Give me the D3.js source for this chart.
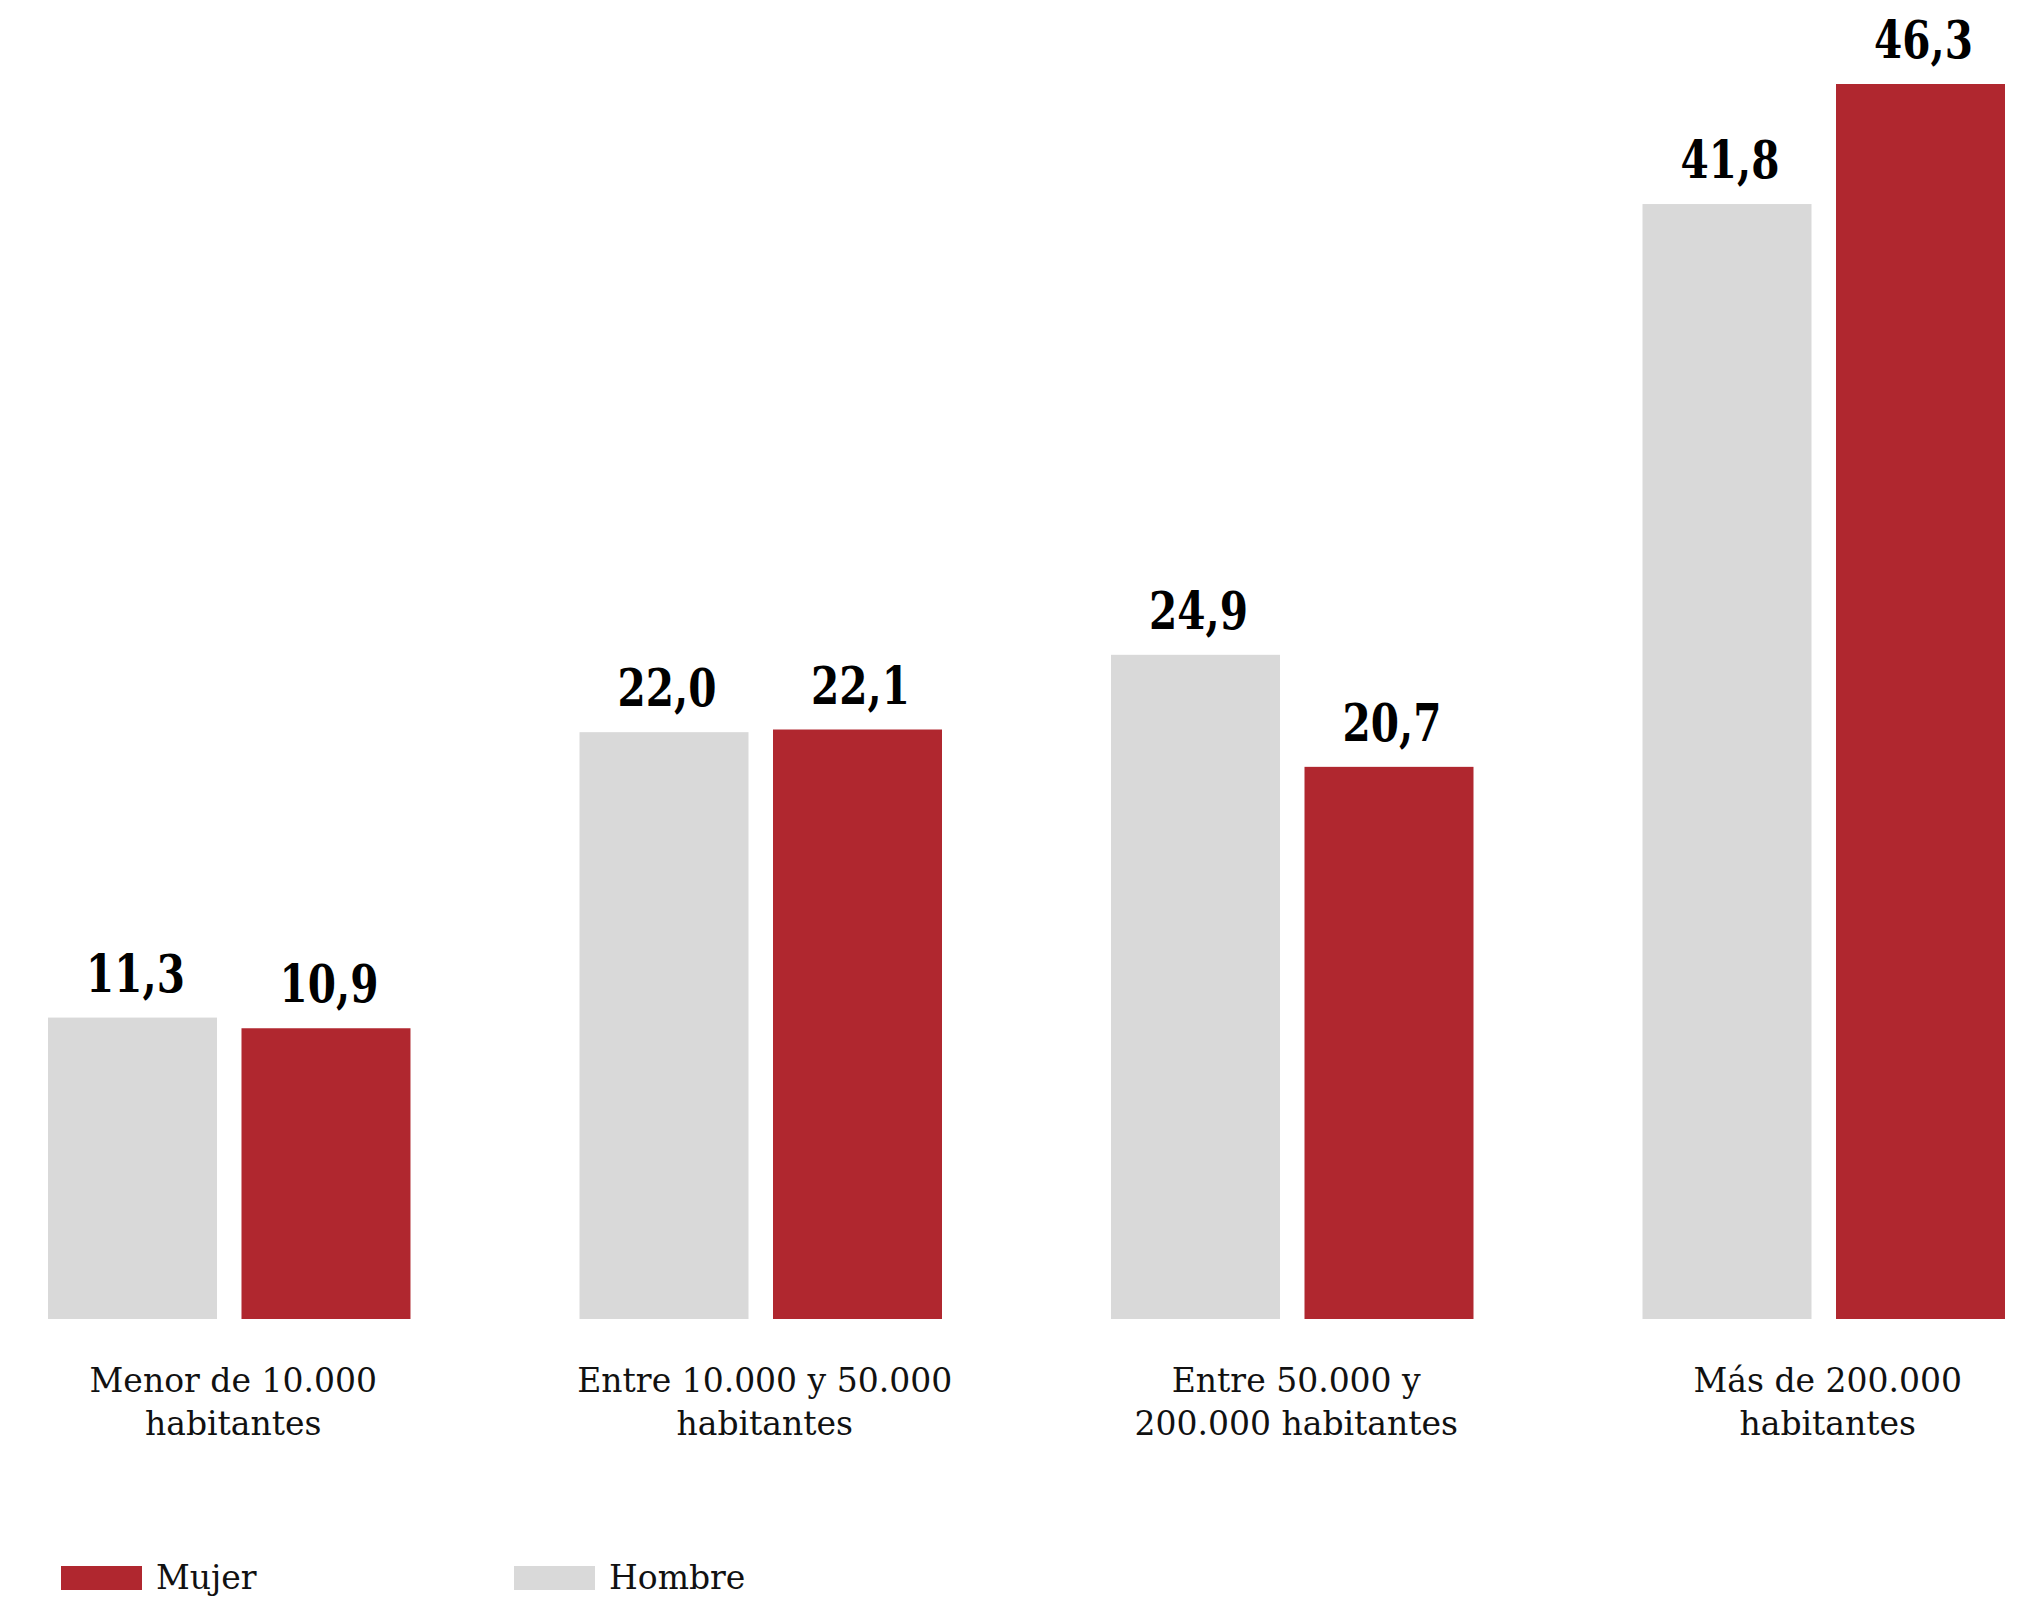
<!DOCTYPE html>
<html>
<head>
<meta charset="utf-8">
<script src="https://cdn.jsdelivr.net/npm/d3@7"></script>
<style>
  html, body { margin: 0; padding: 0; background: #ffffff; }
  svg { display: block; }
</style>
</head>
<body>
<script>
const categories = [
  ["Menor de 10.000", "habitantes"],
  ["Entre 10.000 y 50.000", "habitantes"],
  ["Entre 50.000 y", "200.000 habitantes"],
  ["Más de 200.000", "habitantes"]
];
const seriesNames = ["Hombre", "Mujer"];
const hombre = [11.3, 22.0, 24.9, 41.8];
const mujer = [10.9, 22.1, 20.7, 46.3];
const legendOrder = ["Mujer", "Hombre"];

const W = 2025, H = 1598;
const colors = { "Hombre": "#d9d9d9", "Mujer": "#b0272f" };

const svg = d3.select("body").append("svg")
  .attr("width", W).attr("height", H);

const catKeys = categories.map(c => c.join(" "));
const x0 = d3.scaleBand().domain(catKeys).range([48, 2005])
  .paddingInner(0.318).paddingOuter(0);
const x1 = d3.scaleBand().domain(seriesNames).range([0, x0.bandwidth()])
  .paddingInner(0.1266).paddingOuter(0);
const y = d3.scaleLinear().domain([0, 46.3]).range([1319, 84]);

const fmt = v => d3.format(".1f")(v).replace(".", ",");

const rows = catKeys.map((k, i) => ({ key: k, lines: categories[i], Hombre: hombre[i], Mujer: mujer[i] }));

const groups = svg.append("g").selectAll("g").data(rows).join("g")
  .attr("transform", d => `translate(${x0(d.key)},0)`);

groups.selectAll("rect").data(d => seriesNames.map(s => ({ s, v: d[s] }))).join("rect")
  .attr("x", d => x1(d.s))
  .attr("y", d => y(d.v))
  .attr("width", x1.bandwidth())
  .attr("height", d => y(0) - y(d.v))
  .attr("fill", d => colors[d.s]);

groups.selectAll("text.val").data(d => seriesNames.map(s => ({ s, v: d[s] }))).join("text")
  .attr("class", "val")
  .attr("transform", d => `translate(${x1(d.s) + x1.bandwidth() / 2 + 3},${y(d.v) - 26}) scale(0.78,1)`)
  .attr("text-anchor", "middle")
  .attr("font-family", "'DejaVu Serif', serif")
  .attr("font-weight", "bold")
  .attr("font-size", 52)
  .attr("fill", "#000")
  .text(d => fmt(d.v));

// category labels
const xAxis = svg.append("g");
rows.forEach(d => {
  const cx = x0(d.key) + x0.bandwidth() / 2 + 4;
  const t = xAxis.append("text")
    .attr("x", cx)
    .attr("y", 1392)
    .attr("text-anchor", "middle")
    .attr("font-family", "'DejaVu Serif', serif")
    .attr("font-size", 33)
    .attr("fill", "#111");
  d.lines.forEach((ln, j) => {
    t.append("tspan").attr("x", cx)
      .attr("dy", j === 0 ? 0 : 43).text(ln);
  });
});

// legend
const legX = d3.scalePoint().domain(legendOrder).range([61, 514]);
const leg = svg.append("g").selectAll("g").data(legendOrder).join("g")
  .attr("transform", d => `translate(${legX(d)},1566)`);
leg.append("rect").attr("width", 81).attr("height", 24).attr("fill", d => colors[d]);
leg.append("text").attr("x", 95).attr("y", 23)
  .attr("font-family", "'DejaVu Serif', serif")
  .attr("font-size", 33)
  .attr("fill", "#111")
  .text(d => d);
</script>
</body>
</html>
